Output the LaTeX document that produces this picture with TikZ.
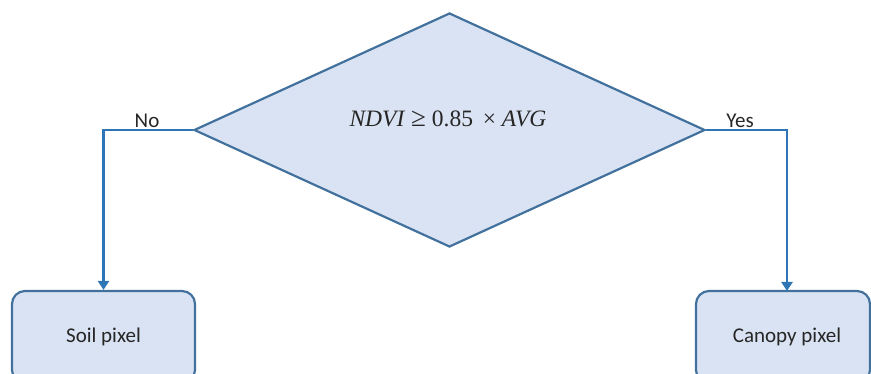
\documentclass[tikz,border=0pt]{standalone}
\usepackage{fontspec}
\setmainfont{Carlito}
\newfontfamily\formulafont{Liberation Serif}
\usetikzlibrary{shapes.geometric,arrows.meta}
\definecolor{boxfill}{HTML}{DAE3F3}
\definecolor{boxline}{HTML}{41719C}
\definecolor{flowline}{HTML}{2E75B6}
\definecolor{txt}{HTML}{262626}
\tikzset{
  decision/.style={diamond, draw=boxline, fill=boxfill, line width=2.2pt,
    minimum width=511pt, minimum height=234pt, inner sep=0pt},
  outcome/.style={rectangle, rounded corners=13pt, draw=boxline, fill=boxfill,
    line width=2.2pt, inner sep=0pt},
  flow/.style={draw=flowline, line width=2.2pt,
    -{Triangle[width=11pt,length=9pt]}},
  branch/.style={font=\fontsize{21}{24}\selectfont, text=txt, anchor=south, inner sep=1pt},
}
\begin{document}
\begin{tikzpicture}[x=1pt,y=-1pt]
  \useasboundingbox (0,0) rectangle (871,374);
  \clip (0,0) rectangle (871,374);
  % decision
  \node[decision] (d) at (449.5,130) {};
  \node[text=txt, font=\formulafont\fontsize{23.5}{26}\selectfont] (f) at (448,119)
    {\itshape NDVI\/ \upshape\fontsize{27}{26}\selectfont≥\fontsize{23.5}{26}\selectfont{} 0.85 \,× \itshape AVG};
  % outcomes (bottoms run past the lower edge)
  \node[outcome, minimum width=183pt, minimum height=92pt] (soil) at (103.5,337) {};
  \node[text=txt, font=\fontsize{21}{24}\selectfont] (soilt) at (103.5,336.5) {Soil pixel};
  \node[outcome, minimum width=174pt, minimum height=92pt] (canopy) at (783,337) {};
  \node[text=txt, font=\fontsize{21}{24}\selectfont] (canopyt) at (787,336.5) {Canopy pixel};
  \coordinate (cin) at (787,291);
  % connectors
  \draw[flow] (d.west) -| (soil.north);
  \draw[flow] (d.east) -| (cin);
  \node[branch] (no) at (147,129) {No};
  \node[branch] (yes) at (740,129) {Yes};
\end{tikzpicture}
\end{document}
